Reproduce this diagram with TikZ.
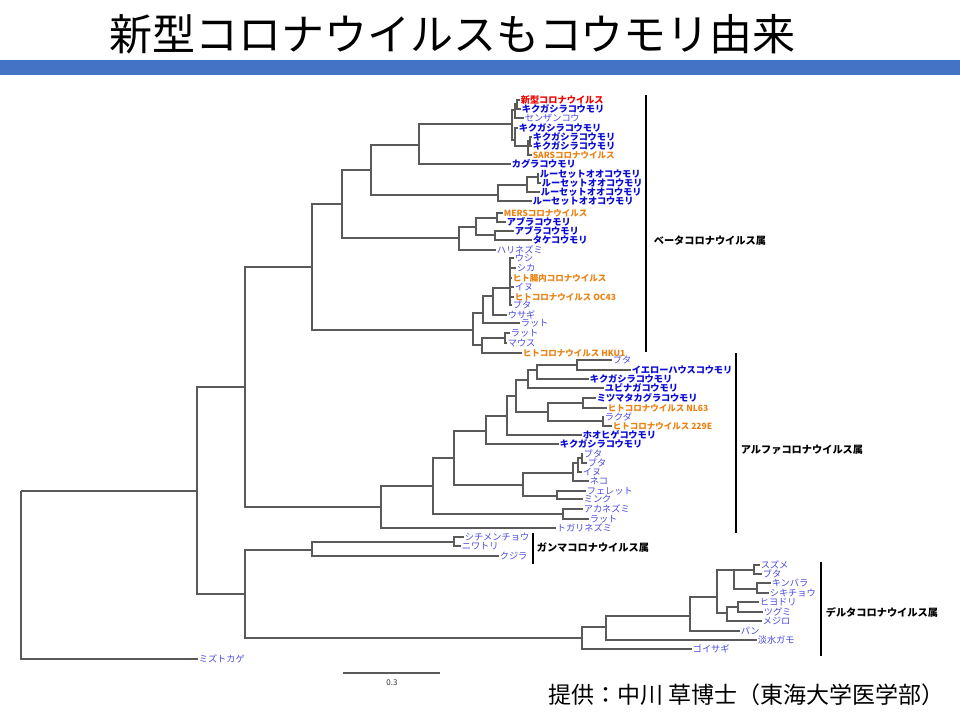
\documentclass[tikz,border=0pt]{standalone}
\usepackage{fontspec}
\setmainfont{Noto Sans CJK JP}
\definecolor{barblue}{RGB}{68,114,196}
\definecolor{treegray}{RGB}{90,90,90}
\definecolor{cbold}{RGB}{10,10,215}
\definecolor{clight}{RGB}{75,75,225}
\definecolor{corange}{RGB}{235,130,20}
\definecolor{cred}{RGB}{240,0,0}
\tikzset{
  tl/.style={draw=treegray, line width=1.1pt},
  lf/.style={anchor=west, inner sep=0.6pt, font=\fontsize{9.2}{9.5}\selectfont},
  bb/.style={lf, text=cbold, font=\bfseries\fontsize{9.2}{9.5}\selectfont},
  lb/.style={lf, text=clight},
  org/.style={lf, text=corange, font=\bfseries\fontsize{8.5}{9}\selectfont},
  rdl/.style={lf, text=cred, font=\bfseries\fontsize{9.2}{9.5}\selectfont},
  grp/.style={anchor=west, inner sep=0.6pt, font=\bfseries\fontsize{10.2}{11}\selectfont},
  brk/.style={draw=black, line width=1.8pt},
}
\begin{document}
\begin{tikzpicture}[x=1pt,y=-1pt]
\useasboundingbox (0,0) rectangle (960,720);
\fill[white] (0,0) rectangle (960,720);
% title and bar
\node[anchor=west, inner sep=0pt, font=\fontsize{43}{46}\selectfont] (title) at (109,34) {新型コロナウイルスもコウモリ由来};
\fill[barblue] (0,60) rectangle (960,75);
\node[anchor=west, inner sep=0pt, font=\fontsize{23}{25}\selectfont] (credit) at (548,695) {提供：中川 草博士（東海大学医学部）};

% internal nodes
\coordinate (R) at (21,491);
\coordinate (N0) at (197,491);
\coordinate (BA) at (245,387);
\coordinate (GD) at (245,594);
\coordinate (Beta) at (312,267);
\coordinate (Alpha) at (381,507);
\coordinate (B1) at (342,204);
\coordinate (B2) at (473,330);
\coordinate (B11) at (371,170);
\coordinate (B12) at (459,238);
\coordinate (S) at (419,145);
\coordinate (Rou) at (498,195);
\coordinate (SS) at (512,124);
\coordinate (U) at (515,110);
\coordinate (U1) at (517,104);
\coordinate (L) at (515,140);
\coordinate (L1) at (528,146);
\coordinate (L2) at (530,141);
\coordinate (Rou2) at (527,185);
\coordinate (Rou3) at (538,177);
\coordinate (M) at (476,227);
\coordinate (M1) at (497,218);
\coordinate (M2) at (495,235);
\coordinate (C1) at (483,313);
\coordinate (C11) at (493,296);
\coordinate (C111) at (510,288);
\coordinate (C2) at (482,345);
\coordinate (C21) at (505,338);
\coordinate (A1) at (433,486);
\coordinate (A11) at (454,458);
\coordinate (A12) at (563,514);
\coordinate (A111) at (486,431);
\coordinate (A112) at (523,485);
\coordinate (A1111) at (507,416);
\coordinate (a1) at (516,396);
\coordinate (a2) at (528,380);
\coordinate (a3) at (537,370);
\coordinate (a4) at (577,365);
\coordinate (a5) at (548,412);
\coordinate (a6) at (583,403);
\coordinate (a7) at (603,421);
\coordinate (b1) at (573,473);
\coordinate (b11) at (578,463);
\coordinate (b111) at (582,458);
\coordinate (b2) at (557,496);
\coordinate (G) at (312,550);
\coordinate (G1) at (454,542);
\coordinate (D) at (582,638);
\coordinate (D1) at (606,627);
\coordinate (D11) at (690,616);
\coordinate (D111) at (717,597);
\coordinate (D1111) at (734,570);
\coordinate (Ca) at (754,570);
\coordinate (Cb) at (757,589);
\coordinate (D1112) at (727,613);
\coordinate (E1) at (738,607);

% beta leaves
\node[rdl] (l1) at (520,100) {新型コロナウイルス};
\node[bb] (l2) at (521,109) {キクガシラコウモリ};
\node[lb] (l3) at (524,118) {センザンコウ};
\node[bb] (l4) at (518,128) {キクガシラコウモリ};
\node[bb] (l5) at (532,137) {キクガシラコウモリ};
\node[bb] (l6) at (532,146) {キクガシラコウモリ};
\node[org] (l7) at (532,155) {SARSコロナウイルス};
\node[bb] (l8) at (511,164) {カグラコウモリ};
\node[bb] (l9) at (539,174) {ルーセットオオコウモリ};
\node[bb] (l10) at (541,183) {ルーセットオオコウモリ};
\node[bb] (l11) at (540,192) {ルーセットオオコウモリ};
\node[bb] (l12) at (532,201) {ルーセットオオコウモリ};
\node[org] (l13) at (503,213) {MERSコロナウイルス};
\node[bb] (l14) at (506,222) {アブラコウモリ};
\node[bb] (l15) at (514,231) {アブラコウモリ};
\node[bb] (l16) at (532,240) {タケコウモリ};
\node[lb] (l17) at (496,250) {ハリネズミ};
\node[lb] (l18) at (514,258) {ウシ};
\node[lb] (l19) at (516,268) {シカ};
\node[org] (l20) at (512,278) {ヒト腸内コロナウイルス};
\node[lb] (l21) at (514,287) {イヌ};
\node[org] (l22) at (514,297) {ヒトコロナウイルス OC43};
\node[lb] (l23) at (512,305) {ブタ};
\node[lb] (l24) at (507,315) {ウサギ};
\node[lb] (l25) at (520,323) {ラット};
\node[lb] (l26) at (510,333) {ラット};
\node[lb] (l27) at (507,343) {マウス};
\node[org] (l28) at (522,353) {ヒトコロナウイルス HKU1};

% alpha leaves
\node[lb] (m1) at (612,360) {ブタ};
\node[bb] (m2) at (631,370) {イエローハウスコウモリ};
\node[bb] (m3) at (589,379) {キクガシラコウモリ};
\node[bb] (m4) at (604,388) {ユビナガコウモリ};
\node[bb] (m5) at (596,398) {ミツマタカグラコウモリ};
\node[org] (m6) at (607,408) {ヒトコロナウイルス NL63};
\node[lb] (m7) at (604,417) {ラクダ};
\node[org] (m8) at (612,426) {ヒトコロナウイルス 229E};
\node[bb] (m9) at (582,435) {ホオヒゲコウモリ};
\node[bb] (m10) at (559,444) {キクガシラコウモリ};
\node[lb] (m11) at (583,454) {ブタ};
\node[lb] (m12) at (587,463) {ブタ};
\node[lb] (m13) at (582,472) {イヌ};
\node[lb] (m14) at (589,481) {ネコ};
\node[lb] (m15) at (586,491) {フェレット};
\node[lb] (m16) at (583,499) {ミンク};
\node[lb] (m17) at (583,509) {アカネズミ};
\node[lb] (m18) at (589,519) {ラット};
\node[lb] (m19) at (556,528) {トガリネズミ};

% gamma leaves
\node[lb] (g1) at (464,537) {シチメンチョウ};
\node[lb] (g2) at (461,546) {ニワトリ};
\node[lb] (g3) at (499,556) {クジラ};

% delta leaves
\node[lb] (d1) at (760,565) {スズメ};
\node[lb] (d2) at (762,574) {ブタ};
\node[lb] (d3) at (771,583) {キンバラ};
\node[lb] (d4) at (769,593) {シキチョウ};
\node[lb] (d5) at (759,602) {ヒヨドリ};
\node[lb] (d6) at (763,612) {ツグミ};
\node[lb] (d7) at (762,621) {メジロ};
\node[lb] (d8) at (740,631) {パン};
\node[lb] (d9) at (757,640) {淡水ガモ};
\node[lb] (d10) at (692,649) {ゴイサギ};

\node[lb] (out) at (198,659) {ミズトカゲ};

% tree edges
\draw[tl] (R) |- (N0) (R) |- (out.west);
\draw[tl] (N0) |- (BA) (N0) |- (GD);
\draw[tl] (BA) |- (Beta) (BA) |- (Alpha);
\draw[tl] (Beta) |- (B1) (Beta) |- (B2);
\draw[tl] (B1) |- (B11) (B1) |- (B12);
\draw[tl] (B11) |- (S) (B11) |- (Rou);
\draw[tl] (S) |- (SS) (S) |- (l8.west);
\draw[tl] (SS) |- (U) (SS) |- (L);
\draw[tl] (U) |- (U1) (U) |- (l3.west);
\draw[tl] (U1) |- (l1.west) (U1) |- (l2.west);
\draw[tl] (L) |- (l4.west) (L) |- (L1);
\draw[tl] (L1) |- (L2) (L1) |- (l7.west);
\draw[tl] (L2) |- (l5.west) (L2) |- (l6.west);
\draw[tl] (Rou) |- (Rou2) (Rou) |- (l12.west);
\draw[tl] (Rou2) |- (Rou3) (Rou2) |- (l11.west);
\draw[tl] (Rou3) |- (l9.west) (Rou3) |- (l10.west);
\draw[tl] (B12) |- (M) (B12) |- (l17.west);
\draw[tl] (M) |- (M1) (M) |- (M2);
\draw[tl] (M1) |- (l13.west) (M1) |- (l14.west);
\draw[tl] (M2) |- (l15.west) (M2) |- (l16.west);
\draw[tl] (B2) |- (C1) (B2) |- (C2);
\draw[tl] (C1) |- (C11) (C1) |- (l25.west);
\draw[tl] (C11) |- (C111) (C11) |- (l24.west);
\draw[tl] (C111) |- (l18.west) (C111) |- (l19.west) (C111) |- (l20.west)
          (C111) |- (l21.west) (C111) |- (l22.west) (C111) |- (l23.west);
\draw[tl] (C2) |- (C21) (C2) |- (l28.west);
\draw[tl] (C21) |- (l26.west) (C21) |- (l27.west);

\draw[tl] (Alpha) |- (A1) (Alpha) |- (m19.west);
\draw[tl] (A1) |- (A11) (A1) |- (A12);
\draw[tl] (A12) |- (m17.west) (A12) |- (m18.west);
\draw[tl] (A11) |- (A111) (A11) |- (A112);
\draw[tl] (A111) |- (A1111) (A111) |- (m10.west);
\draw[tl] (A1111) |- (a1) (A1111) |- (m9.west);
\draw[tl] (a1) |- (a2) (a1) |- (a5);
\draw[tl] (a2) |- (a3) (a2) |- (m4.west);
\draw[tl] (a3) |- (a4) (a3) |- (m3.west);
\draw[tl] (a4) |- (m1.west) (a4) |- (m2.west);
\draw[tl] (a5) |- (a6) (a5) |- (a7);
\draw[tl] (a6) |- (m5.west) (a6) |- (m6.west);
\draw[tl] (a7) |- (m7.west) (a7) |- (m8.west);
\draw[tl] (A112) |- (b1) (A112) |- (b2);
\draw[tl] (b1) |- (b11) (b1) |- (m14.west);
\draw[tl] (b11) |- (b111) (b11) |- (m13.west);
\draw[tl] (b111) |- (m11.west) (b111) |- (m12.west);
\draw[tl] (b2) |- (m15.west) (b2) |- (m16.west);

\draw[tl] (GD) |- (G) (GD) |- (D);
\draw[tl] (G) |- (G1) (G) |- (g3.west);
\draw[tl] (G1) |- (g1.west) (G1) |- (g2.west);
\draw[tl] (D) |- (D1) (D) |- (d10.west);
\draw[tl] (D1) |- (D11) (D1) |- (d9.west);
\draw[tl] (D11) |- (D111) (D11) |- (d8.west);
\draw[tl] (D111) |- (D1111) (D111) |- (D1112);
\draw[tl] (D1111) |- (Ca) (D1111) |- (Cb);
\draw[tl] (Ca) |- (d1.west) (Ca) |- (d2.west);
\draw[tl] (Cb) |- (d3.west) (Cb) |- (d4.west);
\draw[tl] (D1112) |- (E1) (D1112) |- (d7.west);
\draw[tl] (E1) |- (d5.west) (E1) |- (d6.west);

% group brackets
\coordinate (bt1) at (646,95); \coordinate (bt2) at (646,352);
\coordinate (at1) at (736,353); \coordinate (at2) at (736,533);
\coordinate (gt1) at (533,533); \coordinate (gt2) at (533,564);
\coordinate (dt1) at (821,562); \coordinate (dt2) at (821,656);
\draw[brk] (bt1) -- (bt2);
\draw[brk] (at1) -- (at2);
\draw[brk] (gt1) -- (gt2);
\draw[brk] (dt1) -- (dt2);
\node[grp] (gb) at (653,241) {ベータコロナウイルス属};
\node[grp] (ga) at (740,450) {アルファコロナウイルス属};
\node[grp] (gg) at (536,548) {ガンマコロナウイルス属};
\node[grp] (gdl) at (825,612) {デルタコロナウイルス属};

% scale bar
\coordinate (sc1) at (343,673); \coordinate (sc2) at (440,673);
\draw[tl] (sc1) -- (sc2);
\node[inner sep=0pt, text=black!80, font=\fontsize{8}{9}\selectfont] (scl) at (392,683) {0.3};
\end{tikzpicture}
\end{document}
